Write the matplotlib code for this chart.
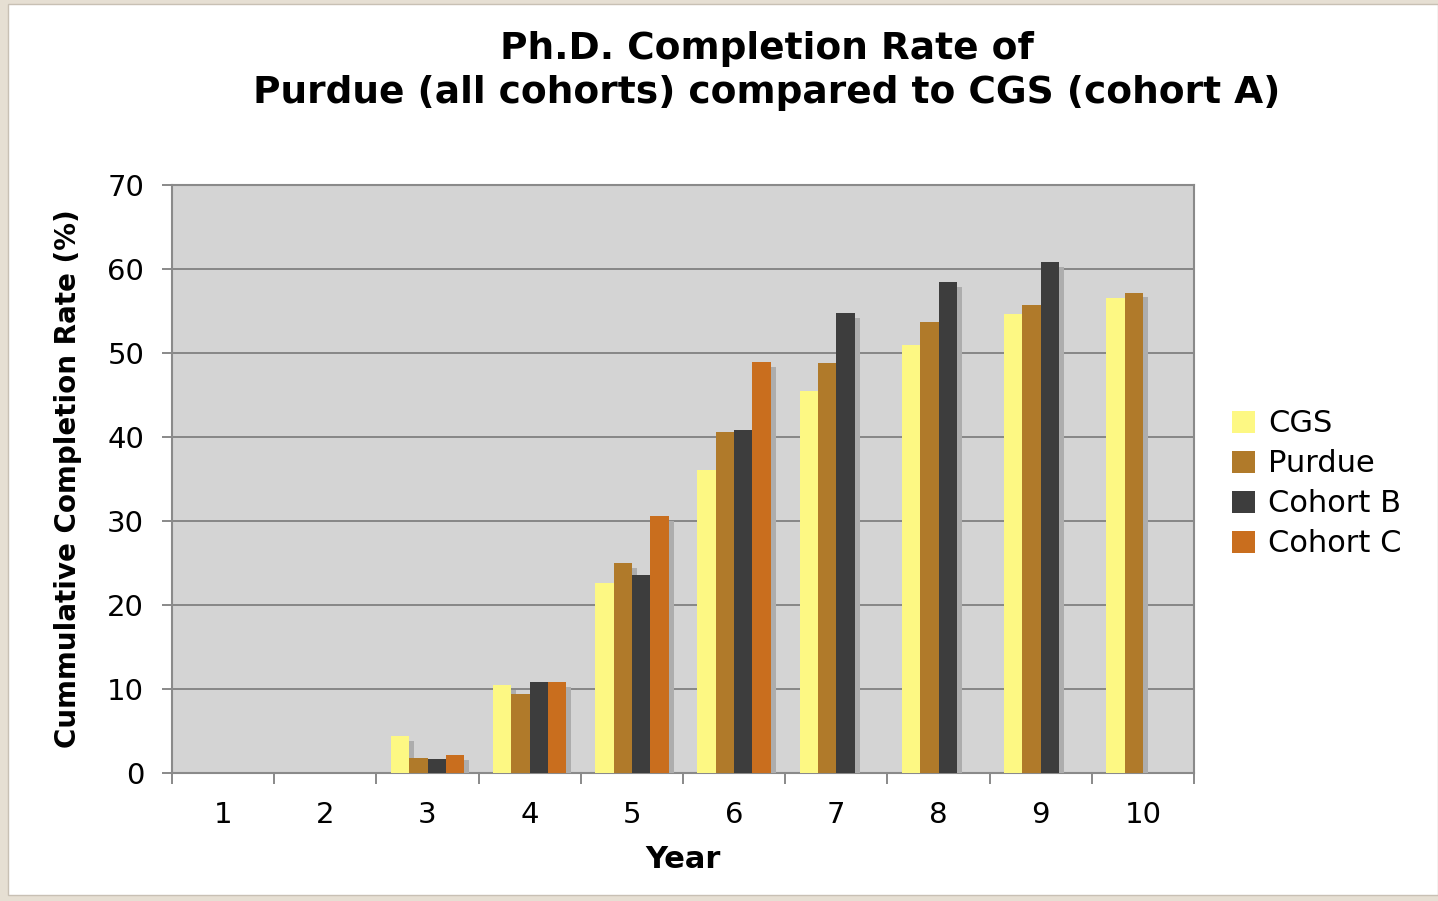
import matplotlib
matplotlib.use("Agg")
import matplotlib.pyplot as plt
import matplotlib.patheffects as pe
from matplotlib.patches import Rectangle, Patch
import numpy as np

years = ["1", "2", "3", "4", "5", "6", "7", "8", "9", "10"]
cgs      = [0, 0, 4.4, 10.5, 22.6, 36.1, 45.5, 51.0, 54.6, 56.5]
purdue   = [0, 0, 1.8, 9.4, 25.0, 40.6, 48.8, 53.7, 55.7, 57.2]
cohort_b = [0, 0, 1.7, 10.8, 23.6, 40.8, 54.8, 58.4, 60.8, np.nan]
cohort_c = [0, 0, 2.1, 10.8, 30.6, 48.9, np.nan, np.nan, np.nan, np.nan]

series = [("CGS", cgs, "#fdf883"),
          ("Purdue", purdue, "#b07a2a"),
          ("Cohort B", cohort_b, "#3d3d3d"),
          ("Cohort C", cohort_c, "#c96e1e")]

plt.rcParams['font.family'] = ['DejaVu Sans']

fig = plt.figure(figsize=(14.38, 9.01), dpi=100)
fig.patch.set_facecolor("#e6dfd3")
fig.patches.append(Rectangle((8/1438, 6/901), 1 - 8/1438, 1 - 10/901,
                             transform=fig.transFigure, facecolor="white",
                             edgecolor="#c8c0b4", linewidth=1, zorder=-10))

ax = fig.add_axes([172/1438, 1 - 773/901, (1194 - 172)/1438, (773 - 185)/901])
ax.set_facecolor("#d4d4d4")

x = np.arange(len(years))
w = 0.18
shadow = [pe.SimplePatchShadow(offset=(3.5, -3.5), shadow_rgbFace="#adadad", alpha=1.0), pe.Normal()]
handles = []
for i, (name, vals, col) in enumerate(series):
    v = np.array(vals, dtype=float)
    bars = ax.bar(x + (i - 1.5) * w, np.nan_to_num(v), width=w, color=col,
                  zorder=3, linewidth=0)
    for b, val in zip(bars, v):
        if np.isnan(val) or val == 0:
            b.set_visible(False)
        else:
            b.set_path_effects(shadow)
    handles.append(Patch(facecolor=col, edgecolor="none", label=name))

ax.set_xlim(-0.5, len(years) - 0.5)
ax.set_ylim(0, 70)
ax.set_yticks(np.arange(0, 71, 10))
ax.yaxis.grid(True, color="#808080", linewidth=1.3, zorder=1)
ax.set_axisbelow(True)
ax.set_xticks(x)
ax.set_xticklabels(years)
ax.set_xticks(np.arange(-0.5, len(years), 1), minor=True)
ax.tick_params(axis="x", which="major", length=0, pad=20, labelsize=21)
ax.tick_params(axis="x", which="minor", length=8, color="#808080", width=1.3)
ax.tick_params(axis="y", length=7, color="#808080", width=1.3, labelsize=21, pad=13)
for s in ax.spines.values():
    s.set_color("#8a8a8a")
    s.set_linewidth(1.5)

ax.set_xlabel("Year", fontsize=22, fontweight="bold", labelpad=12)
ax.set_ylabel("Cummulative Completion Rate (%)", fontsize=20, fontweight="bold", labelpad=18)

fig.text(767/1438, 1 - 71/901, "Ph.D. Completion Rate of\nPurdue (all cohorts) compared to CGS (cohort A)",
         ha="center", va="center", fontsize=27, fontweight="bold", linespacing=1.27)

leg = ax.legend(handles=handles, loc="center left", bbox_to_anchor=(1.037, 0.4915),
                frameon=False, fontsize=22, handlelength=0.75, handleheight=0.75,
                handletextpad=0.45, labelspacing=0.36, borderpad=0, borderaxespad=0)

fig.savefig("out.png", dpi=100, facecolor=fig.get_facecolor())
